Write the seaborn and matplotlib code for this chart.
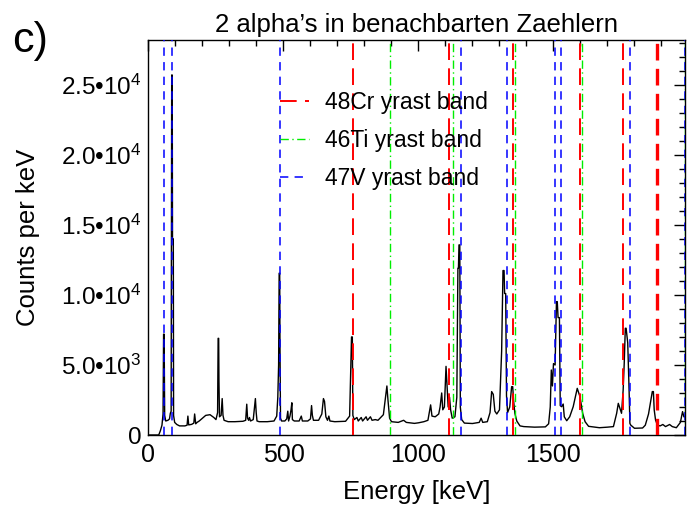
import matplotlib
matplotlib.use("Agg")
import matplotlib.pyplot as plt
from matplotlib.lines import Line2D
from matplotlib.ticker import FixedLocator, MultipleLocator
import seaborn as sns
import pandas as pd

# gamma spectrum (keV, counts per keV)
energy_kev = [
    0, 38, 44, 50, 54, 56, 58, 60, 64, 72, 78, 81, 84, 86, 88, 89, 92, 93, 97,
    105, 115, 135, 143, 146, 149, 160, 168, 171, 175, 180, 188, 200, 212, 228,
    242, 250, 256, 258, 260, 261, 263, 269, 273, 276, 280, 295, 320, 350, 360,
    364, 367, 371, 374, 378, 388, 396, 399, 402, 410, 440, 465, 475, 479, 482,
    484, 486, 487, 489, 493, 505, 512, 516, 519, 524, 528, 531, 533, 540, 558,
    566, 570, 590, 600, 604, 607, 611, 630, 642, 648, 652, 657, 663, 668, 672,
    690, 730, 745, 749, 752, 755, 757, 762, 772, 777, 788, 793, 806, 811, 822,
    828, 840, 850, 870, 878, 883, 887, 893, 900, 925, 945, 955, 985, 1000,
    1020, 1035, 1045, 1050, 1062, 1075, 1080, 1086, 1090, 1096, 1102, 1106,
    1110, 1115, 1119, 1125, 1135, 1142, 1146, 1148, 1150, 1153, 1155, 1160,
    1170, 1200, 1225, 1232, 1238, 1255, 1265, 1271, 1277, 1283, 1290, 1300,
    1308, 1313, 1317, 1319, 1323, 1326, 1330, 1338, 1345, 1349, 1352, 1357,
    1364, 1376, 1390, 1430, 1470, 1482, 1488, 1492, 1496, 1500, 1506, 1511,
    1514, 1517, 1522, 1525, 1530, 1536, 1540, 1549, 1560, 1573, 1582, 1588,
    1598, 1608, 1617, 1630, 1670, 1700, 1722, 1734, 1740, 1752, 1758, 1762,
    1766, 1769, 1775, 1780, 1783, 1786, 1800, 1830, 1840, 1852, 1858, 1866,
    1870, 1873, 1878, 1885, 1895, 1905, 1915, 1930, 1940, 1955, 1970, 1978,
    1983, 1990,
]
counts = [
    0, 0, 300, 700, 1500, 7200, 7200, 1400, 1000, 1050, 1150, 1550, 1700,
    25700, 25700, 14000, 14000, 1400, 900,
    750, 650, 650, 700, 1350, 720, 760, 850, 1500, 800, 900, 1000, 1200, 1400,
    1450, 1250, 1100, 1600, 6900, 6900, 3900, 1300, 1400, 2600, 1400, 1050,
    950, 950, 980, 1050, 2200, 1200, 1050, 1250, 1000, 1100, 2600, 1600, 1000,
    950, 950, 1000, 1350, 2700, 5000, 11550, 11550, 6500, 1200, 1000, 1000,
    1150, 1700, 1000, 1350, 1800, 2300, 1100, 1000, 1000, 1350, 1000, 1000,
    1150, 2100, 1400, 1050, 1050, 1500, 2600, 2400, 1300, 1050, 1350, 1000,
    950, 980, 1350, 4400, 7000, 7000, 1400, 1100, 1250, 1000, 1250, 1000,
    1300, 1050, 1300, 1050, 1100, 1050, 1450, 2700, 3500, 2500, 1200, 950,
    900, 1050, 900, 830, 870,
    950, 1050, 2150, 1350, 1300, 1500, 2000, 3000, 1800, 2000, 4900, 3500,
    2000, 2700, 1800, 1200, 1300, 2700, 11900, 11900, 13570, 13570, 2000, 1100,
    850, 820, 900, 1200, 900, 950, 1600, 3100, 2900, 1700, 1500, 1800,
    6000, 11740, 11740, 10100, 10100, 2800, 1600, 2000, 3450, 3450, 2500, 1550,
    1000, 650, 600, 560, 580, 800, 2000, 4640, 3500, 5100, 5000, 9520,
    9520, 8380, 8380, 2100, 2020, 2210, 1300, 1020, 1300, 2020, 2800, 3330,
    2740, 1550, 950, 620, 520, 560, 600, 1550, 2260, 1550, 3200, 5120,
    7620, 7620, 6570, 3200, 830, 710, 480, 500, 700, 1500, 2200, 3100,
    3100, 1800, 1070, 700, 650, 750, 600, 750, 600, 520, 900, 1670,
    1300, 1300,
]

# transition energies of the yrast bands (keV)
cr48_lines = [756, 1112, 1350, 1598, 1756, 1883]
ti46_lines = [893, 1127, 1357, 1607, 1987]
v47_lines = [57, 88, 487, 1157, 1328, 1505, 1526, 1785, 1986]

band_labels = ["48Cr yrast band", "46Ti yrast band", "47V yrast band"]
y_ticks = [0, 5000, 10000, 15000, 20000, 25000]
y_ticklabels = ["0", "5.0\u202210$^{3}$", "1.0\u202210$^{4}$", "1.5\u202210$^{4}$",
                "2.0\u202210$^{4}$", "2.5\u202210$^{4}$"]
x_ticks = [0, 500, 1000, 1500]

sns.set_theme(style="white")
plt.rcParams["font.family"] = ["Liberation Sans", "DejaVu Sans"]
plt.rcParams["mathtext.fontset"] = "custom"
plt.rcParams["mathtext.rm"] = "Liberation Sans"
plt.rcParams["mathtext.it"] = "Liberation Sans"
plt.rcParams["mathtext.bf"] = "Liberation Sans"
plt.rcParams["lines.scale_dashes"] = False
plt.rcParams["text.color"] = "black"
plt.rcParams["axes.labelcolor"] = "black"
plt.rcParams["xtick.color"] = "black"
plt.rcParams["ytick.color"] = "black"

fig = plt.figure(figsize=(6.88, 5.08), dpi=100)
ax = fig.add_axes([0.2158, 0.1437, 0.7802, 0.7776])

spec = pd.DataFrame({"energy": energy_kev, "counts": counts})
sns.lineplot(data=spec, x="energy", y="counts", ax=ax, color="black",
             linewidth=1.0, estimator=None, sort=False, zorder=2)

cr_style = dict(color="#ff0000", linewidth=1.4, dashes=(12, 6))
ti_style = dict(color="#00ee00", linewidth=1.0, dashes=(6, 2.5, 1, 2.5))
v_style = dict(color="#0000ff", linewidth=1.1, dashes=(6, 4.5))

for e in cr48_lines:
    lw = 2.4 if e == cr48_lines[-1] else cr_style["linewidth"]
    ax.axvline(e, color=cr_style["color"], linewidth=lw,
               dashes=cr_style["dashes"], zorder=3)
for e in ti46_lines:
    ax.axvline(e, zorder=3, **ti_style)
for e in v47_lines:
    ax.axvline(e, zorder=3, **v_style)

ax.set_xlim(0, 1988)
ax.set_ylim(0, 28200)

ax.xaxis.set_major_locator(FixedLocator(x_ticks))
ax.xaxis.set_minor_locator(MultipleLocator(100))
ax.yaxis.set_major_locator(FixedLocator(y_ticks))
ax.yaxis.set_minor_locator(MultipleLocator(1000))
ax.set_yticklabels(y_ticklabels)
ax.tick_params(which="both", direction="in", top=True, right=True,
               color="black", width=1.0)
ax.tick_params(which="major", length=8)
ax.tick_params(axis="x", which="major", labelsize=18, pad=6)
ax.tick_params(axis="y", which="major", labelsize=17.5, pad=5)
ax.tick_params(which="minor", length=4.5)
for s in ax.spines.values():
    s.set_color("black")
    s.set_linewidth(1.0)

ax.set_xlabel("Energy [keV]", fontsize=18.5, labelpad=9)
ax.set_ylabel("Counts per keV", fontsize=18.5)
ax.yaxis.set_label_coords(-0.203, 0.5)
ax.set_title("2 alpha\u2019s in benachbarten Zaehlern", fontsize=18.5, pad=6)

handles = [
    Line2D([], [], **cr_style),
    Line2D([], [], **ti_style),
    Line2D([], [], **v_style),
]
ax.legend(handles, band_labels, loc="upper left", bbox_to_anchor=(0.245, 0.87),
          frameon=False, fontsize=16.5, handlelength=1.25, handletextpad=0.7,
          labelspacing=0.65, borderaxespad=0, borderpad=0)

fig.text(0.018, 0.898, "c)", fontsize=31, va="baseline", ha="left")

fig.savefig("out.png", dpi=100)
